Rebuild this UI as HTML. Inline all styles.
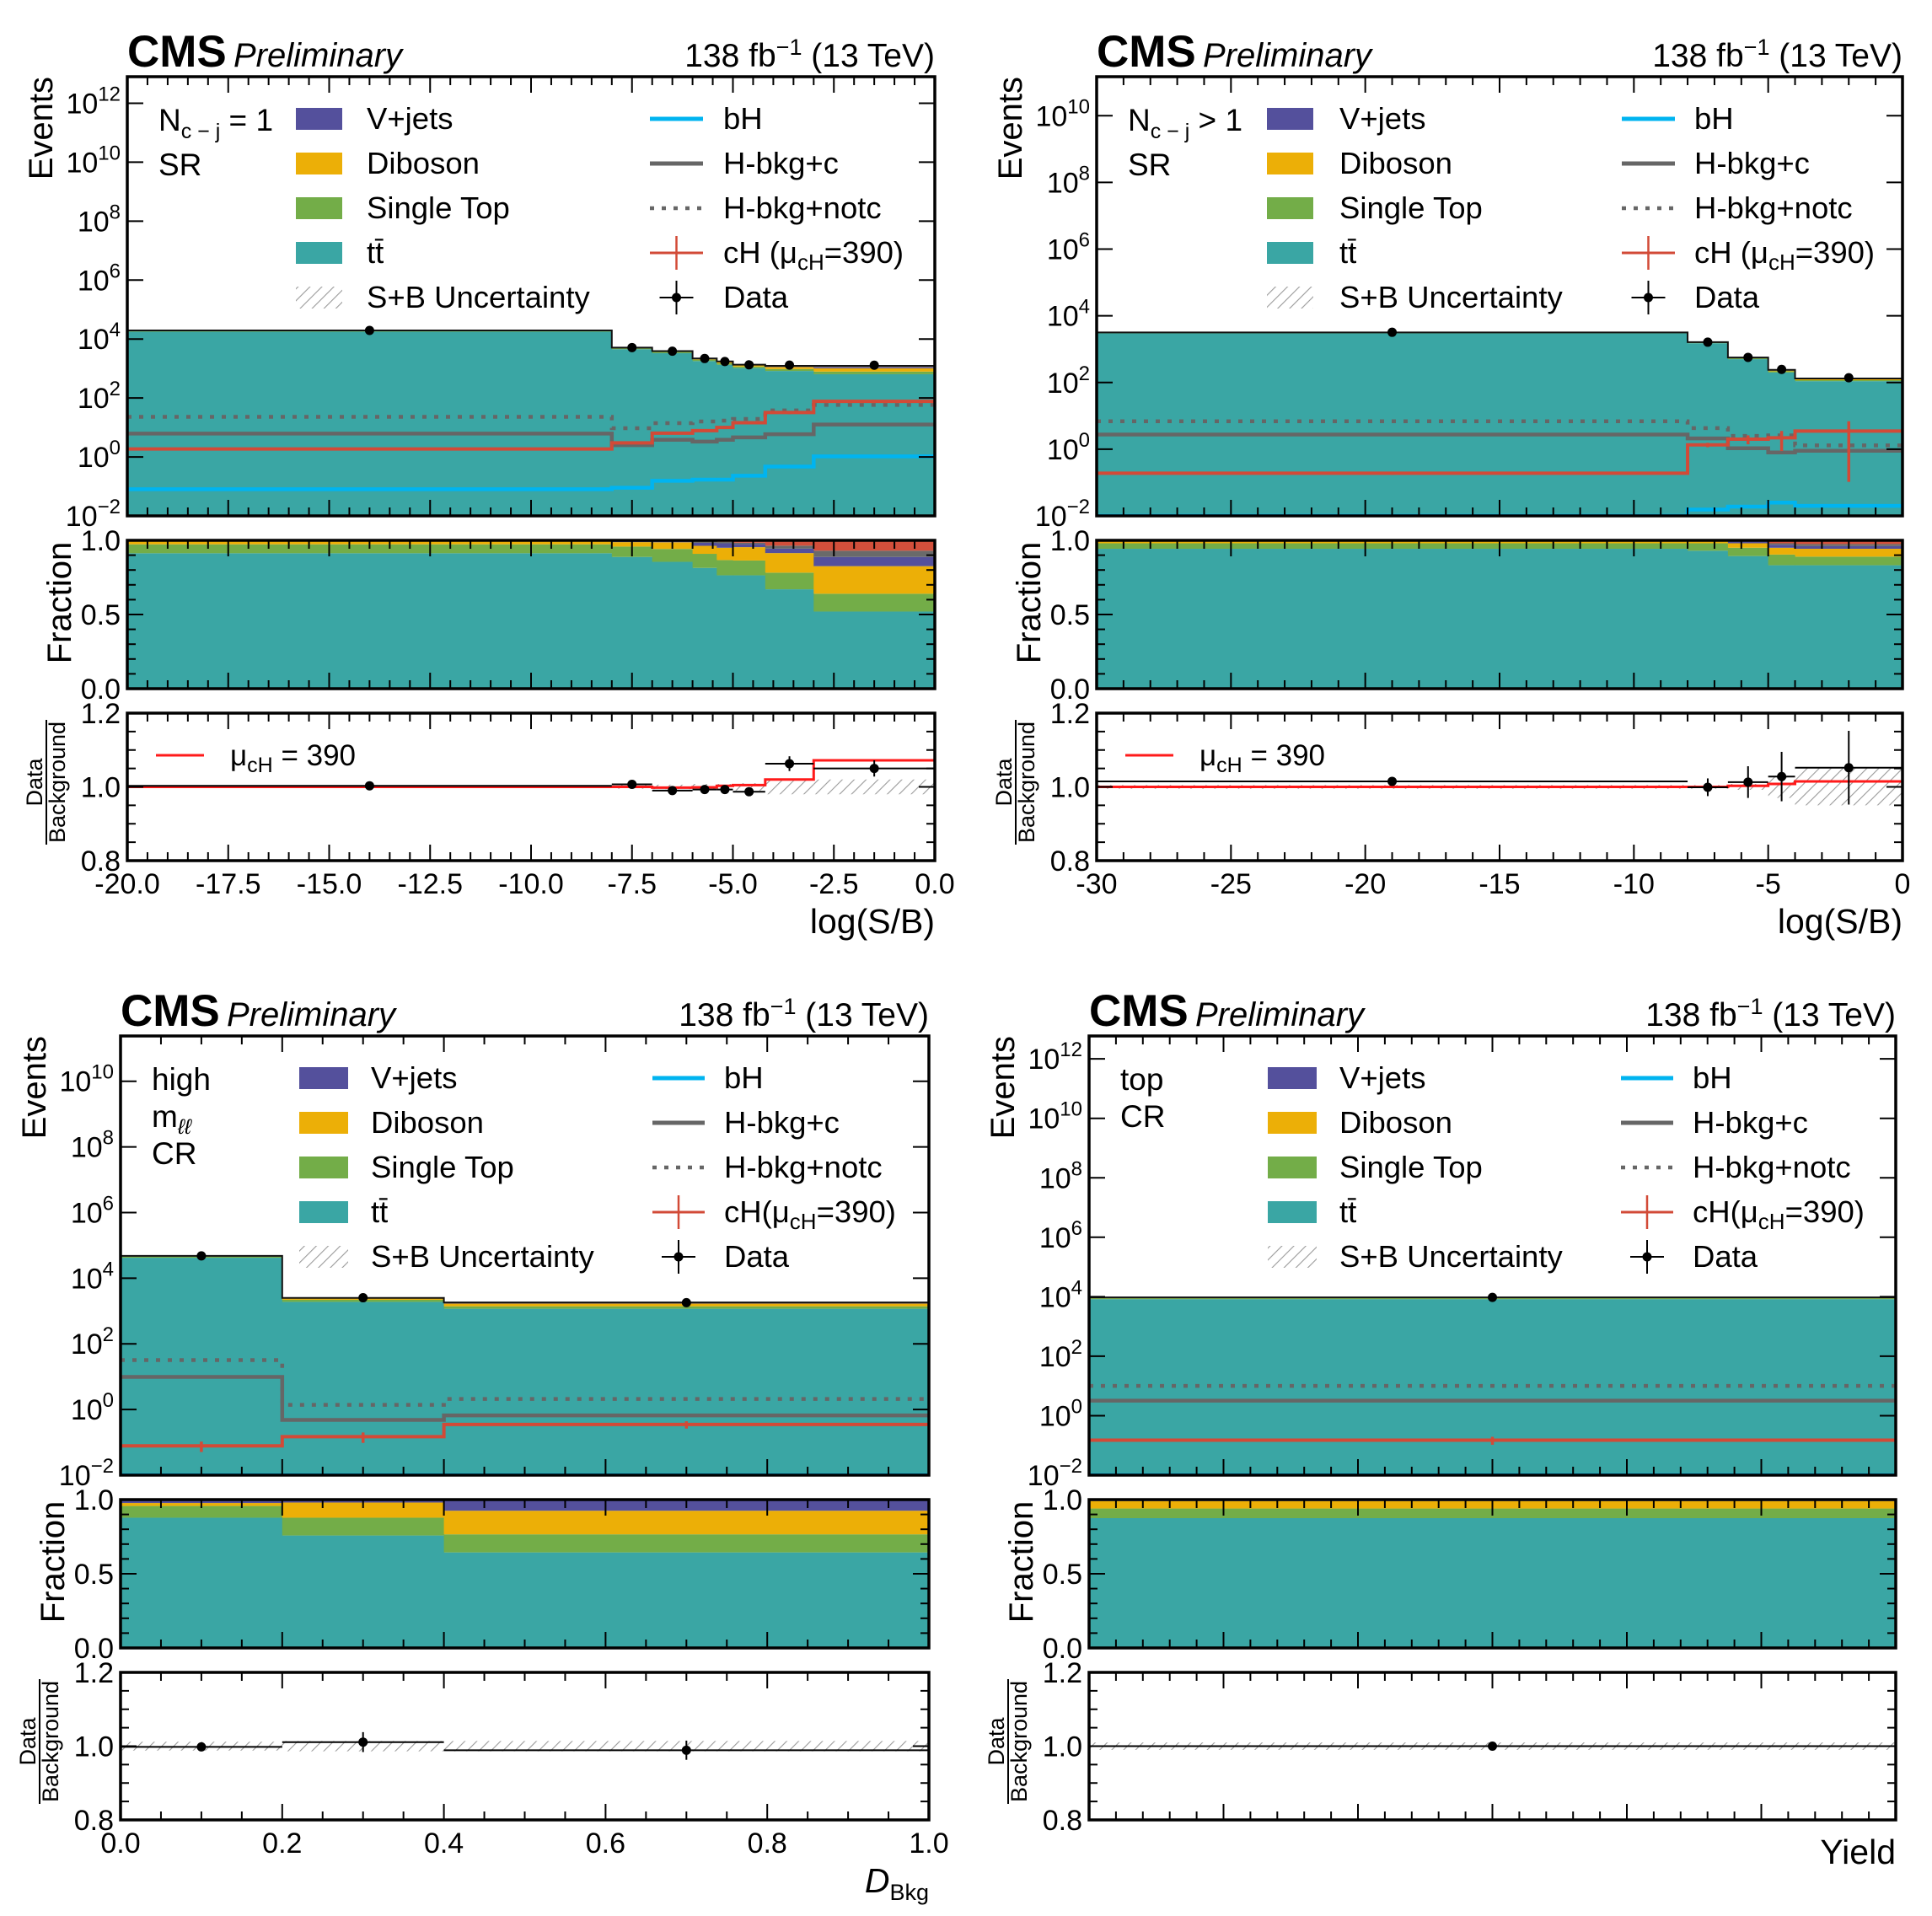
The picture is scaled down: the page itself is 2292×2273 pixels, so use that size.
<!DOCTYPE html>
<html><head><meta charset="utf-8"><title>CMS cH stacked plots</title>
<style>
html,body{margin:0;padding:0;background:#fff;}
svg{display:block;font-family:"Liberation Sans",Arial,sans-serif;}
</style></head>
<body>
<svg id="fig" xmlns="http://www.w3.org/2000/svg" width="2292" height="2273" viewBox="0 0 2292 2273">
<defs>
<pattern id="hatch" patternUnits="userSpaceOnUse" width="10" height="10" patternTransform="rotate(45)">
<line x1="0" y1="0" x2="0" y2="10" stroke="#9a9a9a" stroke-width="2.2"/>
</pattern>
</defs>
<rect x="0" y="0" width="2292" height="2273" fill="#fff"/>
</svg>
<script>
// ---------------- Data: top-left (N_cj = 1 SR) ----------------
const tlEdges = [-20,-8,-7,-6,-5.4,-5,-4.2,-3,0];
const tlTotal = [19500,5100,3900,2200,1740,1350,1230,1230];
const tlFracTT = [0.913,0.888,0.855,0.814,0.764,0.764,0.67,0.52];
const tlFracST = [0.06,0.07,0.087,0.095,0.103,0.10,0.112,0.12];
const tlFracDB = [0.02,0.03,0.045,0.054,0.083,0.09,0.132,0.186];
const tlFracVJ = [0.005,0.01,0.01,0.02,0.03,0.02,0.03,0.062];
const tlFracHB = [0.002,0.002,0.003,0.01,0.01,0.01,0.02,0.042];
const tlFracSig = [0,0,0,0.007,0.01,0.016,0.036,0.07];
const tlHbkgC = [6.2,2.5,3.8,3.3,3.8,4.6,5.9,12.6];
const tlHbkgNotc = [23,9.4,14,16,17,19.5,38,58];
const tlCH = [1.86,3,6.4,7.8,10,14.5,32,77];
const tlCHErr = [0.08,0.1,0.1,0.1,0.12,0.12,0.12,0.12];
const tlBH = [0.08,0.09,0.155,0.17,0.17,0.23,0.47,1.05];
const tlDataRatio = [1.003,1.007,0.99,0.993,0.993,0.987,1.063,1.05];
const tlDataErr = [0.003,0.008,0.008,0.01,0.01,0.012,0.02,0.022];
const tlMuRatio = [1.0,1.0,0.998,0.999,1.003,1.005,1.02,1.072];
const tlUnc = [0.002,0.005,0.006,0.008,0.008,0.01,0.02,0.02];
const tlXTicks = ["-20.0","-17.5","-15.0","-12.5","-10.0","-7.5","-5.0","-2.5","0.0"];

// ---------------- Data: top-right (N_cj > 1 SR) ----------------
const trEdges = [-30,-8,-6.5,-5,-4,0];
const trTotal = [3160,1620,560,240,132];
const trFracTT = [0.943,0.93,0.894,0.832,0.832];
const trFracST = [0.037,0.05,0.056,0.072,0.058];
const trFracDB = [0.015,0.015,0.03,0.046,0.053];
const trFracVJ = [0.005,0.004,0.015,0.02,0.018];
const trFracHB = [0,0.001,0.003,0.01,0.014];
const trFracSig = [0,0,0.002,0.02,0.025];
const trHbkgC = [2.75,2.1,1.07,0.8,0.9];
const trHbkgNotc = [6.9,4.3,2.5,2.6,1.3];
const trCH = [0.19,1.35,2.0,2.2,3.5];
const trCHErr = [0.1,0.15,0.3,0.6,0.97];
const trBH = [0.001,0.0155,0.019,0.025,0.02];
const trDataRatio = [1.015,0.999,1.013,1.028,1.052];
const trDataErr = [0.005,0.024,0.043,0.067,0.1];
const trMuRatio = [1.0,1.0,1.003,1.008,1.015];
const trUnc = [0.005,0.005,0.008,0.03,0.05];
const trXTicks = ["-30","-25","-20","-15","-10","-5","0"];

// ---------------- Data: bottom-left (high m_ll CR) ----------------
const blEdges = [0,0.2,0.4,1.0];
const blTotal = [47900,2510,1820];
const blFracTT = [0.878,0.758,0.644];
const blFracST = [0.079,0.12,0.122];
const blFracDB = [0.02,0.102,0.159];
const blFracVJ = [0.023,0.02,0.075];
const blFracHB = [0,0,0];
const blFracSig = [0,0,0];
const blHbkgC = [9.8,0.48,0.66];
const blHbkgNotc = [32,1.38,2.1];
const blCH = [0.078,0.148,0.35];
const blCHErr = [0.35,0.35,0.25];
const blBH = [0.0001,0.0001,0.0001];
const blDataRatio = [0.998,1.011,0.989];
const blDataErr = [0.005,0.027,0.026];
const blUnc = [0.012,0.014,0.014];
const blXTicks = ["0.0","0.2","0.4","0.6","0.8","1.0"];

// ---------------- Data: bottom-right (top CR) ----------------
const brEdges = [0,1];
const brTotal = [9500];
const brFracTT = [0.875];
const brFracST = [0.065];
const brFracDB = [0.05];
const brFracVJ = [0.01];
const brFracHB = [0];
const brFracSig = [0];
const brHbkgC = [3.2];
const brHbkgNotc = [10];
const brCH = [0.15];
const brCHErr = [0.3];
const brBH = [0.0001];
const brDataRatio = [1.0];
const brDataErr = [0.002];
const brUnc = [0.01];

const fracYTicks = ["0.0","0.5","1.0"];
const ratioYTicks = ["0.8","1.0","1.2"];

const C = {tt:"#3aa6a4", st:"#73ad48", db:"#ecaf07", vj:"#54509c", hb:"#6a6a6a", sig:"#d24f3b", bh:"#00b4f0", red:"#d24a37", gray:"#666666"};
const NS = "http://www.w3.org/2000/svg";
const svg = document.getElementById("fig");

function el(tag, attrs, parent, text){
  const e = document.createElementNS(NS, tag);
  for (const k in attrs) e.setAttribute(k, attrs[k]);
  if (text !== undefined) e.textContent = text;
  (parent || svg).appendChild(e);
  return e;
}

function drawPanel(P){
  const g = el("g", {});
  
  
  const x0 = P.x0, w = P.w, y0 = P.y0;
  const mT = y0, mB = y0 + 521, fT = y0 + 550, fB = y0 + 726, rT = y0 + 755, rB = y0 + 930;
  const X = v => x0 + (v - P.xmin) / (P.xmax - P.xmin) * w;
  const Ym = v => { const l = Math.log10(Math.max(v, 1e-6)); return Math.min(mB, Math.max(mT, mB - (l - (-2)) / (P.ymaxLog + 2) * (mB - mT))); };
  const Yf = f => fB - f * (fB - fT);
  const Yr = r => Math.min(rB, Math.max(rT, rB - (r - 0.8) / 0.4 * (rB - rT)));
  const E = P.edges, n = E.length - 1;

  const mainG = el("g", {"clip-path":"url(#clip-"+P.id+")"}, g);
  
  
  const cp = el("clipPath", {id:"clip-"+P.id}, g);
  el("rect", {x:x0, y:mT, width:w, height:mB-mT}, cp);
  const comps = [["tt",P.fTT],["st",P.fST],["db",P.fDB],["vj",P.fVJ],["hb",P.fHB],["sig",P.fSig]];
  for (let i = 0; i < n; i++){
    let s = 0; comps.forEach(c => s += c[1][i]);
    let cum = 0;
    comps.forEach(c => {
      const f = c[1][i] / s;
      if (f <= 0) return;
      const lo = cum === 0 ? mB : Ym(cum * P.total[i]);
      cum += f;
      const hi = Ym(cum * P.total[i]);
      const r = el("rect", {x:X(E[i]), y:hi, width:X(E[i+1])-X(E[i])+0.6, height:Math.max(0, lo-hi), fill:C[c[0]]}, mainG);
      
      
    });
  }
  function stepPath(vals, Yfn){
    let d = "";
    for (let i = 0; i < n; i++){
      const y = Yfn(vals[i]);
      d += (i === 0 ? "M" : "L") + X(E[i]) + "," + y + "L" + X(E[i+1]) + "," + y;
    }
    return d;
  }
  const tot = el("path", {d:stepPath(P.total, Ym), fill:"none", stroke:"#111", "stroke-width":2}, mainG);
  
  
  const bh = el("path", {d:stepPath(P.bH, Ym), fill:"none", stroke:C.bh, "stroke-width":4.5}, mainG);
  
  
  const hn = el("path", {d:stepPath(P.notc, Ym), fill:"none", stroke:C.gray, "stroke-width":4.5, "stroke-dasharray":"5,9"}, mainG);
  
  
  const hc = el("path", {d:stepPath(P.hbkgC, Ym), fill:"none", stroke:C.gray, "stroke-width":4.5}, mainG);
  
  
  const ch = el("path", {d:stepPath(P.cH, Ym), fill:"none", stroke:C.red, "stroke-width":4}, mainG);
  
  
  for (let i = 0; i < n; i++){
    const xc = X((E[i]+E[i+1])/2);
    const e1 = el("line", {x1:xc, x2:xc, y1:Ym(P.cH[i]*(1-P.cHErr[i])), y2:Ym(P.cH[i]*(1+P.cHErr[i])), stroke:C.red, "stroke-width":3.5}, mainG);
    
    
    const dv = P.total[i]*P.dataRatio[i];
    const dp = el("circle", {cx:xc, cy:Ym(dv), r:5.5, fill:"#000"}, mainG);
    
    
  }

  const fracG = el("g", {}, g);
  
  
  for (let i = 0; i < n; i++){
    let s = 0; comps.forEach(c => s += c[1][i]);
    let cum = 0;
    comps.forEach(c => {
      const f = c[1][i] / s;
      if (f <= 0) return;
      const lo = Yf(cum); cum += f; const hi = Yf(Math.min(1, cum));
      const r = el("rect", {x:X(E[i]), y:hi, width:X(E[i+1])-X(E[i])+0.6, height:lo-hi, fill:C[c[0]]}, fracG);
      
      
    });
  }

  const ratG = el("g", {}, g);
  
  
  for (let i = 0; i < n; i++){
    const hb = el("rect", {x:X(E[i]), y:Yr(1+P.unc[i]), width:X(E[i+1])-X(E[i]), height:Yr(1-P.unc[i])-Yr(1+P.unc[i]), fill:"url(#hatch)"}, ratG);
    
    
  }
  if (P.mu){
    const mu = el("path", {d:stepPath(P.mu, Yr), fill:"none", stroke:"#ff1a1a", "stroke-width":3}, ratG);
    
    
  }
  for (let i = 0; i < n; i++){
    const xc = X((E[i]+E[i+1])/2), yd = Yr(P.dataRatio[i]);
    const hl = el("line", {x1:X(E[i]), x2:X(E[i+1]), y1:yd, y2:yd, stroke:"#000", "stroke-width":2}, ratG);
    
    
    const vl = el("line", {x1:xc, x2:xc, y1:Yr(P.dataRatio[i]-P.dataErr[i]), y2:Yr(P.dataRatio[i]+P.dataErr[i]), stroke:"#000", "stroke-width":2}, ratG);
    
    
    const dp = el("circle", {cx:xc, cy:yd, r:5.5, fill:"#000"}, ratG);
    
    
  }

  const tk = el("g", {stroke:"#000", "stroke-width":2}, g);
  
  
  [[mT,mB],[fT,fB],[rT,rB]].forEach(([a,b]) => {
    for (let v = P.xmin; v <= P.xmax + 1e-9; v += P.xMinor){
      const isMaj = Math.abs(Math.round((v-P.xmin)/P.xMajor)*P.xMajor - (v-P.xmin)) < 1e-6;
      const L = isMaj ? 19 : 10, x = X(v);
      el("line", {x1:x, x2:x, y1:b, y2:b-L}, tk);
      el("line", {x1:x, x2:x, y1:a, y2:a+L}, tk);
    }
  });
  for (let d = -2; d <= P.ymaxLog; d += 2){
    const y = Ym(Math.pow(10, d));
    el("line", {x1:x0, x2:x0+19, y1:y, y2:y}, tk);
    el("line", {x1:x0+w, x2:x0+w-19, y1:y, y2:y}, tk);
  }
  for (let k = 0; k <= 10; k++){
    const y = Yf(k/10), L = (k % 5 === 0) ? 19 : 10;
    el("line", {x1:x0, x2:x0+L, y1:y, y2:y}, tk);
    el("line", {x1:x0+w, x2:x0+w-L, y1:y, y2:y}, tk);
  }
  for (let k = 0; k <= 8; k++){
    const y = Yr(0.8 + k*0.05), L = (k % 4 === 0) ? 19 : 10;
    el("line", {x1:x0, x2:x0+L, y1:y, y2:y}, tk);
    el("line", {x1:x0+w, x2:x0+w-L, y1:y, y2:y}, tk);
  }
  [[mT,mB,'main-frame'],[fT,fB,'fraction-frame'],[rT,rB,'ratio-frame']].forEach(([a,b,nm]) => {
    const fr = el("rect", {x:x0, y:a, width:w, height:b-a, fill:"none", stroke:"#000", "stroke-width":3.5}, g);
    
    
  });

  const tl = el("g", {"font-size":34, fill:"#000"}, g);
  
  
  for (let d = -2; d <= P.ymaxLog; d += 2){
    const y = Ym(Math.pow(10, d));
    const t = el("text", {x:x0-8, y:y+12, "text-anchor":"end"}, tl);
    
    
    el("tspan", {}, t, "10");
    el("tspan", {dy:-15, "font-size":24}, t, d < 0 ? "\u2212" + (-d) : String(d));
  }
  fracYTicks.forEach((s,k) => {
    const t = el("text", {x:x0-8, y:Yf(k*0.5)+12, "text-anchor":"end"}, tl, s);
    
    
  });
  ratioYTicks.forEach((s,k) => {
    const t = el("text", {x:x0-8, y:Yr(0.8+k*0.2)+12, "text-anchor":"end"}, tl, s);
    
    
  });
  if (P.xTicks){
    P.xTicks.forEach((s,k) => {
      const t = el("text", {x:X(P.xmin + k*P.xMajor), y:rB+39, "text-anchor":"middle"}, tl, s);
      
      
    });
  }

  const ev = el("text", {transform:"translate("+(x0-89)+","+mT+") rotate(-90)", "text-anchor":"end", "font-size":40}, g, "Events");
  
  
  const fr = el("text", {transform:"translate("+(x0-67)+","+(y0+624)+") rotate(-90)", "text-anchor":"middle", "font-size":40}, g, "Fraction");
  
  
  const rc = y0 + 837;
  const rd = el("text", {transform:"translate("+(x0-101)+","+rc+") rotate(-90)", "text-anchor":"middle", "font-size":27}, g, "Data");
  
  
  const rl = el("line", {x1:x0-96, x2:x0-96, y1:rc-74, y2:rc+74, stroke:"#000", "stroke-width":2}, g);
  
  
  const rbk = el("text", {transform:"translate("+(x0-74)+","+rc+") rotate(-90)", "text-anchor":"middle", "font-size":27}, g, "Background");
  
  
  const xt = el("text", {x:x0+w, y:rB+(P.xTicks?86:52), "text-anchor":"end", "font-size":41}, g);
  
  
  if (P.xtitle === "D"){
    el("tspan", {"font-style":"italic"}, xt, "D");
    el("tspan", {dy:9, "font-size":27}, xt, "Bkg");
  } else xt.textContent = P.xtitle;

  const cms = el("text", {x:x0, y:mT-12, "font-size":53, "font-weight":"bold"}, g, "CMS");
  
  
  const pre = el("text", {x:x0+126, y:mT-12, "font-size":40, "font-style":"italic"}, g, "Preliminary");
  
  
  const lum = el("text", {x:x0+w, y:mT-12, "font-size":39, "text-anchor":"end"}, g);
  
  
  el("tspan", {}, lum, "138 fb");
  el("tspan", {dy:-14, "font-size":27}, lum, "\u22121");
  el("tspan", {dy:14}, lum, " (13 TeV)");

  const rg = el("g", {"font-size":37}, g);
  
  
  P.region(rg, x0+37, mT);

  const L = P.leg;
  const lg = el("g", {"font-size":36.5}, g);
  
  
  const rowsY = [0,1,2,3,4].map(k => mT + 50 + 53*k);
  const sw = [["V+jets",C.vj],["Diboson",C.db],["Single Top",C.st],["tt",C.tt],["S+B Uncertainty","url(#hatch)"]];
  sw.forEach((s,k) => {
    const e = el("g", {}, lg);
    
    
    el("rect", {x:x0+L.s1, y:rowsY[k]-13, width:L.s2-L.s1, height:26, fill:s[1]}, e);
    const t = el("text", {x:x0+L.t1, y:rowsY[k]+12}, e, s[0]);
    if (k === 3){ t.textContent = "t"; el("tspan", {}, t, "t\u0304"); }
  });
  const c2 = [["bH"],["H-bkg+c"],["H-bkg+notc"],["cH"],["Data"]];
  c2.forEach((s,k) => {
    const e = el("g", {}, lg);
    
    
    const y = rowsY[k], a = x0+L.l1, b = x0+L.l2, m = (a+b)/2;
    if (k === 0) el("line", {x1:a, x2:b, y1:y, y2:y, stroke:C.bh, "stroke-width":5}, e);
    if (k === 1) el("line", {x1:a, x2:b, y1:y, y2:y, stroke:C.gray, "stroke-width":5}, e);
    if (k === 2) el("line", {x1:a, x2:b, y1:y, y2:y, stroke:C.gray, "stroke-width":4.5, "stroke-dasharray":"5,9"}, e);
    if (k === 3){ el("line", {x1:a, x2:b, y1:y, y2:y, stroke:C.red, "stroke-width":3}, e); el("line", {x1:m, x2:m, y1:y-20, y2:y+20, stroke:C.red, "stroke-width":2.5}, e); }
    if (k === 4){ el("line", {x1:m-20, x2:m+20, y1:y, y2:y, stroke:"#000", "stroke-width":2}, e); el("line", {x1:m, x2:m, y1:y-20, y2:y+20, stroke:"#000", "stroke-width":2}, e); el("circle", {cx:m, cy:y, r:5.5}, e); }
    const t = el("text", {x:x0+L.t2, y:y+12}, e);
    if (k === 3){
      el("tspan", {}, t, P.chSpace ? "cH (\u03bc" : "cH(\u03bc");
      el("tspan", {dy:8, "font-size":26}, t, "cH");
      el("tspan", {dy:-8}, t, "=390)");
    } else t.textContent = s[0];
  });

  if (P.mu){
    const rlg = el("g", {}, g);
    
    
    el("line", {x1:x0+34, x2:x0+91, y1:rT+50, y2:rT+50, stroke:"#ff1a1a", "stroke-width":3}, rlg);
    const t = el("text", {x:x0+122, y:rT+62, "font-size":35}, rlg);
    el("tspan", {}, t, "\u03bc");
    el("tspan", {dy:8, "font-size":25}, t, "cH");
    el("tspan", {dy:-8}, t, " = 390");
  }
}

function ncjLabel(sym){
  return function(g, x, top){
    const t = el("text", {x:x, y:top+64}, g);
    el("tspan", {}, t, "N");
    el("tspan", {dy:9, "font-size":25}, t, "c \u2212 j");
    el("tspan", {dy:-9}, t, " " + sym + " 1");
    el("text", {x:x, y:top+117}, g, "SR");
  };
}

drawPanel({id:"tl", name:"panel-ncj1-sr", x0:151, y0:91, w:958, xmin:-20, xmax:0, xMajor:2.5, xMinor:0.5, ymaxLog:12.9,
  edges:tlEdges, total:tlTotal, fTT:tlFracTT, fST:tlFracST, fDB:tlFracDB, fVJ:tlFracVJ, fHB:tlFracHB, fSig:tlFracSig,
  hbkgC:tlHbkgC, notc:tlHbkgNotc, cH:tlCH, cHErr:tlCHErr, bH:tlBH, dataRatio:tlDataRatio, dataErr:tlDataErr, mu:tlMuRatio, unc:tlUnc,
  xTicks:tlXTicks, xtitle:"log(S/B)", region:ncjLabel("="), chSpace:true,
  leg:{s1:200, s2:255, t1:284, l1:620, l2:683, t2:707}});

drawPanel({id:"tr", name:"panel-ncj-gt1-sr", x0:1301, y0:91, w:956, xmin:-30, xmax:0, xMajor:5, xMinor:1, ymaxLog:11.17,
  edges:trEdges, total:trTotal, fTT:trFracTT, fST:trFracST, fDB:trFracDB, fVJ:trFracVJ, fHB:trFracHB, fSig:trFracSig,
  hbkgC:trHbkgC, notc:trHbkgNotc, cH:trCH, cHErr:trCHErr, bH:trBH, dataRatio:trDataRatio, dataErr:trDataErr, mu:trMuRatio, unc:trUnc,
  xTicks:trXTicks, xtitle:"log(S/B)", region:ncjLabel(">"), chSpace:true,
  leg:{s1:202, s2:257, t1:288, l1:623, l2:686, t2:709}});

drawPanel({id:"bl", name:"panel-high-mll-cr", x0:143, y0:1229, w:959, xmin:0, xmax:1, xMajor:0.2, xMinor:0.05, ymaxLog:11.38,
  edges:blEdges, total:blTotal, fTT:blFracTT, fST:blFracST, fDB:blFracDB, fVJ:blFracVJ, fHB:blFracHB, fSig:blFracSig,
  hbkgC:blHbkgC, notc:blHbkgNotc, cH:blCH, cHErr:blCHErr, bH:blBH, dataRatio:blDataRatio, dataErr:blDataErr, mu:null, unc:blUnc,
  xTicks:blXTicks, xtitle:"D", chSpace:false,
  region:function(g, x, top){
    el("text", {x:x, y:top+64}, g, "high");
    const t = el("text", {x:x, y:top+108}, g);
    el("tspan", {}, t, "m");
    el("tspan", {dy:8, "font-size":25, "font-style":"italic"}, t, "\u2113\u2113");
    el("text", {x:x, y:top+152}, g, "CR");
  },
  leg:{s1:212, s2:270, t1:297, l1:631, l2:693, t2:716}});

drawPanel({id:"br", name:"panel-top-cr", x0:1292, y0:1229, w:957, xmin:0, xmax:1, xMajor:1/6, xMinor:1/30, ymaxLog:12.77,
  edges:brEdges, total:brTotal, fTT:brFracTT, fST:brFracST, fDB:brFracDB, fVJ:brFracVJ, fHB:brFracHB, fSig:brFracSig,
  hbkgC:brHbkgC, notc:brHbkgNotc, cH:brCH, cHErr:brCHErr, bH:brBH, dataRatio:brDataRatio, dataErr:brDataErr, mu:null, unc:brUnc,
  xTicks:null, xtitle:"Yield", chSpace:false,
  region:function(g, x, top){
    el("text", {x:x, y:top+64}, g, "top");
    el("text", {x:x, y:top+108}, g, "CR");
  },
  leg:{s1:212, s2:270, t1:297, l1:631, l2:693, t2:716}});
</script>
</body></html>
